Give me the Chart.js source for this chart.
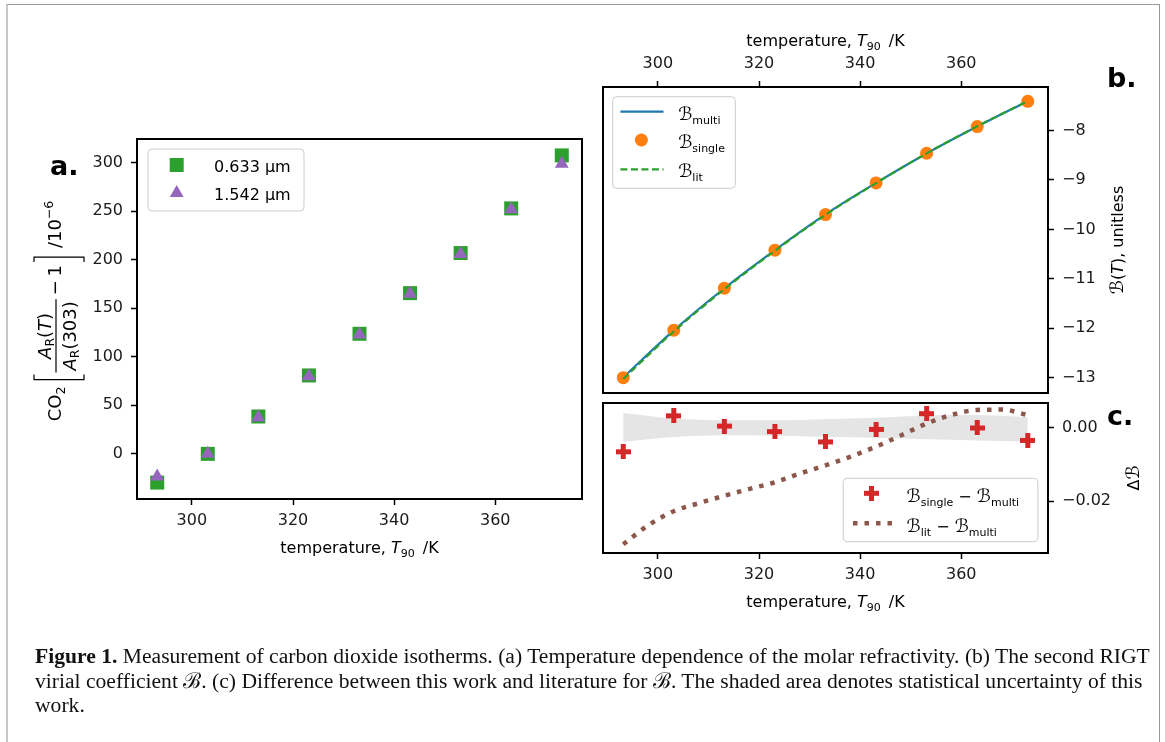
<!DOCTYPE html>
<html>
<head>
<meta charset="utf-8">
<title>CO2 isotherms</title>
<script src="https://cdn.jsdelivr.net/npm/chart.js@4.4.1/dist/chart.umd.min.js"></script>
<style>
  body { margin: 0; background: #fff; }
  #page { position: relative; width: 1165px; height: 742px; overflow: hidden; background: #fff; }
  #frame { position: absolute; left: 6px; top: 4px; width: 1151px; height: 800px;
           border-top: 1px solid #9a9a9a; border-left: 2px solid #c8c8c8; border-right: 1px solid #9a9a9a; }
  canvas { position: absolute; left: 0; top: 0; }
  #caption { position: absolute; left: 35px; top: 644px; font-family: "Liberation Serif", serif;
             font-size: 21.6px; line-height: 24.5px; white-space: nowrap; color: #111; }
</style>
</head>
<body>
<div id="page">
  <div id="frame"></div>
  <canvas id="panelA" width="1165" height="742"></canvas>
  <canvas id="panelB" width="1165" height="742"></canvas>
  <canvas id="panelC" width="1165" height="742"></canvas>
  <div id="caption"><b>Figure 1.</b> Measurement of carbon dioxide isotherms. (a) Temperature dependence of the molar refractivity. (b) The second RIGT<br>virial coefficient ℬ. (c) Difference between this work and literature for ℬ. The shaded area denotes statistical uncertainty of this<br>work.</div>
</div>
<script>
// temperaturi de masura (K)
const temps = [293.15, 303.15, 313.15, 323.15, 333.15, 343.15, 353.15, 363.15, 373.15];

// (a) refractivitate relativa, /10^-6
const labelsA = ['0.633 μm', '1.542 μm'];
const refr633 = [-29.6, 0.0, 38.5, 80.8, 123.7, 165.6, 206.9, 252.9, 307.5];
const refr1542 = [-23.4, 0.0, 37.5, 80.0, 123.0, 165.0, 206.0, 252.0, 299.0];

// (b) coeficientul virial B
const bMulti = [-12.994, -12.043, -11.191, -10.419, -9.696, -9.060, -8.464, -7.920, -7.407];
const bSingle = [-13.00, -12.04, -11.19, -10.42, -9.70, -9.06, -8.46, -7.92, -7.41];
const bLit = [-13.026, -12.066, -11.210, -10.434, -9.706, -9.065, -8.463, -7.915, -7.404];

// (c) diferente
const dSingle = [-0.0065, 0.0033, 0.0005, -0.0010, -0.0038, -0.0004, 0.0039, 0.0000, -0.0034];
const litTemps = [293.15, 298.15, 303.15, 308.15, 313.15, 318.15, 323.15, 328.15, 333.15,
                  338.15, 343.15, 348.15, 353.15, 358.15, 363.15, 368.15, 373.15];
const dLit = [-0.0317, -0.0265, -0.0227, -0.0205, -0.0185, -0.0166, -0.0148, -0.0124, -0.0102,
              -0.0078, -0.0051, -0.0020, 0.0012, 0.0036, 0.0049, 0.0050, 0.0035];
const bandHigh = [0.0041, 0.0026, 0.0021, 0.0021, 0.0024, 0.0028, 0.0034, 0.0035, 0.0029];
const bandLow = [-0.0038, -0.0025, -0.0020, -0.0021, -0.0024, -0.0027, -0.0031, -0.0034, -0.0037];

// tick-uri
const tempTicks = [300, 320, 340, 360];
const aTicks = [0, 50, 100, 150, 200, 250, 300];
const bTicks = [-13, -12, -11, -10, -9, -8];
const cTicks = [-0.02, 0.0];

const GREEN = '#2ca02c', PURPLE = '#9467bd', BLUE = '#1f77b4', ORANGE = '#ff7f0e',
      RED = '#d62728', BROWN = '#8c564b';
const F = '16px "DejaVu Sans"', FI = 'italic 16px "DejaVu Sans"', FS = '11px "DejaVu Sans"',
      FC = '18px "DejaVu Sans"', FB = 'bold 27px "DejaVu Sans"';
// font mai mare pentru titlul cu fractie
const G = '18px "DejaVu Sans"', GI = 'italic 18px "DejaVu Sans"', GS = '12.5px "DejaVu Sans"';

Chart.defaults.font.family = '"DejaVu Sans"';
Chart.defaults.font.size = 16;
Chart.defaults.color = '#1a1a1a';

const xy = (xs, ys) => xs.map((x, i) => ({ x: x, y: ys[i] }));
const minus = v => String(v).replace('-', '\u2212');

function axis(pos, lo, hi, ticks, pad, fmt) {
  const t = { padding: pad, autoSkip: false, maxRotation: 0 };
  if (fmt) t.callback = fmt;
  return {
    type: 'linear', position: pos, min: lo, max: hi,
    afterBuildTicks: s => { s.ticks = ticks.map(v => ({ value: v })); },
    afterFit: s => { if (s.isHorizontal()) s.height = 40; else s.width = 80; },
    grid: { display: true, drawOnChartArea: false, drawTicks: true, tickLength: 6, tickWidth: 1.5, tickColor: '#000' },
    border: { display: false },
    ticks: t
  };
}

// simbol plus plin pentru (c)
function plusImg(size, arm, color) {
  const c = document.createElement('canvas');
  c.width = c.height = size;
  const g = c.getContext('2d');
  g.fillStyle = color;
  const a = (size - arm) / 2;
  g.fillRect(a, 0, arm, size);
  g.fillRect(0, a, size, arm);
  return c;
}
const PLUS = plusImg(15, 5, RED);

function rich(ctx, parts, x, y, align) {
  let w = 0;
  for (const p of parts) { ctx.font = p[1]; w += ctx.measureText(p[0]).width; }
  let cx = align === 'center' ? x - w / 2 : x;
  for (const p of parts) {
    ctx.font = p[1];
    ctx.fillText(p[0], cx, y + (p[2] || 0));
    cx += ctx.measureText(p[0]).width;
  }
  return w;
}
function richW(ctx, parts) {
  let w = 0;
  for (const p of parts) { ctx.font = p[1]; w += ctx.measureText(p[0]).width; }
  return w;
}

function legendBox(ctx, x0, y0, x1, y1) {
  const r = 4;
  ctx.save();
  ctx.beginPath();
  ctx.moveTo(x0 + r, y0);
  ctx.arcTo(x1, y0, x1, y1, r);
  ctx.arcTo(x1, y1, x0, y1, r);
  ctx.arcTo(x0, y1, x0, y0, r);
  ctx.arcTo(x0, y0, x1, y0, r);
  ctx.closePath();
  ctx.fillStyle = 'rgba(255,255,255,0.8)';
  ctx.fill();
  ctx.strokeStyle = '#cccccc';
  ctx.lineWidth = 1;
  ctx.stroke();
  ctx.restore();
}

const tempTitle = [['temperature, ', F], ['T', FI], ['90', FS, 4], ['\u2002/K', F]];

const frame = {
  id: 'frame',
  afterDraw(chart) {
    const { ctx, chartArea: a } = chart;
    ctx.save();
    ctx.strokeStyle = '#000';
    ctx.lineWidth = 2;
    ctx.strokeRect(a.left, a.top, a.right - a.left, a.bottom - a.top);
    ctx.restore();
  }
};

function rotated(ctx, x, y, parts) {
  ctx.save();
  ctx.translate(x, y);
  ctx.rotate(-Math.PI / 2);
  rich(ctx, parts, 0, 0, 'center');
  ctx.restore();
}

// titlul axei y din (a): CO2 [A_R(T)/A_R(303) - 1] /10^-6
function fracTitle(ctx) {
  ctx.save();
  ctx.translate(61, 311);
  ctx.rotate(-Math.PI / 2);
  ctx.fillStyle = '#000';
  ctx.strokeStyle = '#000';
  ctx.lineWidth = 1.2;
  const co = [['CO', G], ['2', GS, 4]];
  const num = [['A', GI], ['R', GS, 3], ['(', G], ['T', GI], [')', G]];
  const den = [['A', GI], ['R', GS, 3], ['(303)', G]];
  const m1 = [['\u2212\u20091', G]];
  const exp = [['/10', G], ['\u22126', GS, -8]];
  const wFrac = Math.max(richW(ctx, num), richW(ctx, den)) + 4;
  const total = richW(ctx, co) + 7 + 5 + 2 + wFrac + 4 + richW(ctx, m1) + 3 + 5 + 9 + richW(ctx, exp);
  let x = -total / 2;
  x += rich(ctx, co, x, 0) + 7;
  const top = -27, bot = 23;
  ctx.beginPath();
  ctx.moveTo(x + 5, top); ctx.lineTo(x, top); ctx.lineTo(x, bot); ctx.lineTo(x + 5, bot);
  ctx.stroke();
  x += 5 + 2;
  const fc = x + wFrac / 2;
  rich(ctx, num, fc, -10, 'center');
  rich(ctx, den, fc, 15, 'center');
  ctx.beginPath();
  ctx.moveTo(x, -5); ctx.lineTo(x + wFrac, -5);
  ctx.stroke();
  x += wFrac + 4;
  x += rich(ctx, m1, x, 0) + 3;
  ctx.beginPath();
  ctx.moveTo(x, top); ctx.lineTo(x + 5, top); ctx.lineTo(x + 5, bot); ctx.lineTo(x, bot);
  ctx.stroke();
  x += 5 + 9;
  rich(ctx, exp, x, 0);
  ctx.restore();
}

function drawA(chart) {
  const ctx = chart.ctx;
  ctx.save();
  ctx.fillStyle = '#000';
  ctx.textAlign = 'left';
  ctx.textBaseline = 'alphabetic';
  rich(ctx, tempTitle, 359.5, 553, 'center');
  fracTitle(ctx);
  ctx.font = FB;
  ctx.fillText('a.', 50, 175);
  legendBox(ctx, 148, 149, 304, 211);
  ctx.fillStyle = GREEN;
  Chart.helpers.drawPoint(ctx, { pointStyle: 'rect', radius: 9.9, borderWidth: 0 }, 176.7, 165);
  ctx.fillStyle = PURPLE;
  Chart.helpers.drawPoint(ctx, { pointStyle: 'triangle', radius: 8, borderWidth: 0 }, 176.7, 193);
  ctx.fillStyle = '#000';
  rich(ctx, [[labelsA[0], F]], 214, 171.7);
  rich(ctx, [[labelsA[1], F]], 214, 200);
  ctx.restore();
}

function drawB(chart) {
  const ctx = chart.ctx;
  ctx.save();
  ctx.fillStyle = '#000';
  ctx.textAlign = 'left';
  ctx.textBaseline = 'alphabetic';
  rich(ctx, tempTitle, 825.5, 46, 'center');
  rotated(ctx, 1123, 240, [['ℬ', FC], ['(', F], ['T', FI], ['), unitless', F]]);
  ctx.font = FB;
  ctx.fillText('b.', 1107, 87);
  legendBox(ctx, 612.7, 96.7, 735.3, 188.3);
  ctx.lineWidth = 2.2;
  ctx.strokeStyle = BLUE;
  ctx.beginPath(); ctx.moveTo(620.4, 111.7); ctx.lineTo(663.5, 111.7); ctx.stroke();
  ctx.fillStyle = ORANGE;
  ctx.beginPath(); ctx.arc(641.4, 140, 6.5, 0, Math.PI * 2); ctx.fill();
  ctx.strokeStyle = GREEN;
  ctx.setLineDash([7, 3.5]);
  ctx.beginPath(); ctx.moveTo(620.4, 169.3); ctx.lineTo(663.5, 169.3); ctx.stroke();
  ctx.setLineDash([]);
  ctx.fillStyle = '#000';
  rich(ctx, [['ℬ', FC], ['multi', FS, 4]], 678.2, 120);
  rich(ctx, [['ℬ', FC], ['single', FS, 4]], 678.2, 148);
  rich(ctx, [['ℬ', FC], ['lit', FS, 4]], 678.2, 176.7);
  ctx.restore();
}

function drawC(chart) {
  const ctx = chart.ctx;
  ctx.save();
  ctx.fillStyle = '#000';
  ctx.textAlign = 'left';
  ctx.textBaseline = 'alphabetic';
  rich(ctx, tempTitle, 825.5, 607, 'center');
  rotated(ctx, 1139, 478, [['Δ', F], ['ℬ', FC]]);
  ctx.font = FB;
  ctx.fillText('c.', 1107, 425);
  legendBox(ctx, 843.2, 478.3, 1037.9, 541.7);
  ctx.drawImage(PLUS, 871.5 - 7.5, 493.3 - 7.5);
  ctx.strokeStyle = BROWN;
  ctx.lineWidth = 4.5;
  ctx.setLineDash([4.5, 7]);
  ctx.beginPath(); ctx.moveTo(853, 523.3); ctx.lineTo(892, 523.3); ctx.stroke();
  ctx.setLineDash([]);
  ctx.fillStyle = '#000';
  rich(ctx, [['ℬ', FC], ['single', FS, 4], [' \u2212 ', F], ['ℬ', FC], ['multi', FS, 4]], 906.5, 501.7);
  rich(ctx, [['ℬ', FC], ['lit', FS, 4], [' \u2212 ', F], ['ℬ', FC], ['multi', FS, 4]], 906.5, 531.7);
  ctx.restore();
}

const common = {
  responsive: false,
  animation: false,
  events: [],
  plugins: { legend: { display: false }, tooltip: { enabled: false } }
};

new Chart(document.getElementById('panelA'), {
  type: 'line',
  data: {
    datasets: [
      { label: labelsA[0], data: xy(temps, refr633), showLine: false, pointStyle: 'rect', pointRadius: 9.9,
        pointBackgroundColor: GREEN, pointBorderWidth: 0, order: 2 },
      { label: labelsA[1], data: xy(temps, refr1542), showLine: false, pointStyle: 'triangle', pointRadius: 8,
        pointBackgroundColor: PURPLE, pointBorderWidth: 0, order: 1 }
    ]
  },
  options: Object.assign({}, common, {
    layout: { padding: { left: 57, right: 583, top: 139, bottom: 203 } },
    scales: {
      x: axis('bottom', 289.15, 377.15, tempTicks, 6),
      y: axis('left', -46.5, 324.4, aTicks, 8)
    }
  }),
  plugins: [frame, { id: 'decoA', afterDraw: drawA }]
});

new Chart(document.getElementById('panelB'), {
  type: 'line',
  data: {
    datasets: [
      { label: 'multi', data: xy(temps, bMulti), borderColor: BLUE, borderWidth: 2.2, pointRadius: 0,
        cubicInterpolationMode: 'monotone', fill: false, order: 3 },
      { label: 'single', data: xy(temps, bSingle), showLine: false, pointStyle: 'circle', pointRadius: 6.5,
        pointBackgroundColor: ORANGE, pointBorderWidth: 0, order: 2 },
      { label: 'lit', data: xy(temps, bLit), borderColor: GREEN, borderWidth: 2.2, borderDash: [7, 3.5],
        pointRadius: 0, cubicInterpolationMode: 'monotone', fill: false, order: 1 }
    ]
  },
  options: Object.assign({}, common, {
    layout: { padding: { left: 603, right: 37, top: 47, bottom: 349 } },
    scales: {
      x: axis('top', 289.15, 377.15, tempTicks, 8),
      y: axis('right', -13.31, -7.12, bTicks, 8, minus)
    }
  }),
  plugins: [frame, { id: 'decoB', afterDraw: drawB }]
});

new Chart(document.getElementById('panelC'), {
  type: 'line',
  data: {
    datasets: [
      { label: 'band+', data: xy(temps, bandHigh), fill: '+1', backgroundColor: '#e5e5e5',
        borderColor: 'rgba(0,0,0,0)', borderWidth: 0, pointRadius: 0, cubicInterpolationMode: 'monotone', order: 5 },
      { label: 'band-', data: xy(temps, bandLow), fill: false,
        borderColor: 'rgba(0,0,0,0)', borderWidth: 0, pointRadius: 0, cubicInterpolationMode: 'monotone', order: 4 },
      { label: 'lit-multi', data: xy(litTemps, dLit), borderColor: BROWN, borderWidth: 4.5, borderDash: [4.5, 7],
        pointRadius: 0, cubicInterpolationMode: 'monotone', fill: false, order: 2 },
      { label: 'single-multi', data: xy(temps, dSingle), showLine: false, pointStyle: PLUS, pointRadius: 7,
        order: 1 }
    ]
  },
  options: Object.assign({}, common, {
    layout: { padding: { left: 603, right: 37, top: 403, bottom: 149 } },
    scales: {
      x: axis('bottom', 289.15, 377.15, tempTicks, 6),
      y: axis('right', -0.0341, 0.0068, cTicks, 8, v => v.toFixed(2).replace('-', '\u2212'))
    }
  }),
  plugins: [frame, { id: 'decoC', afterDraw: drawC }]
});
</script>
</body>
</html>
